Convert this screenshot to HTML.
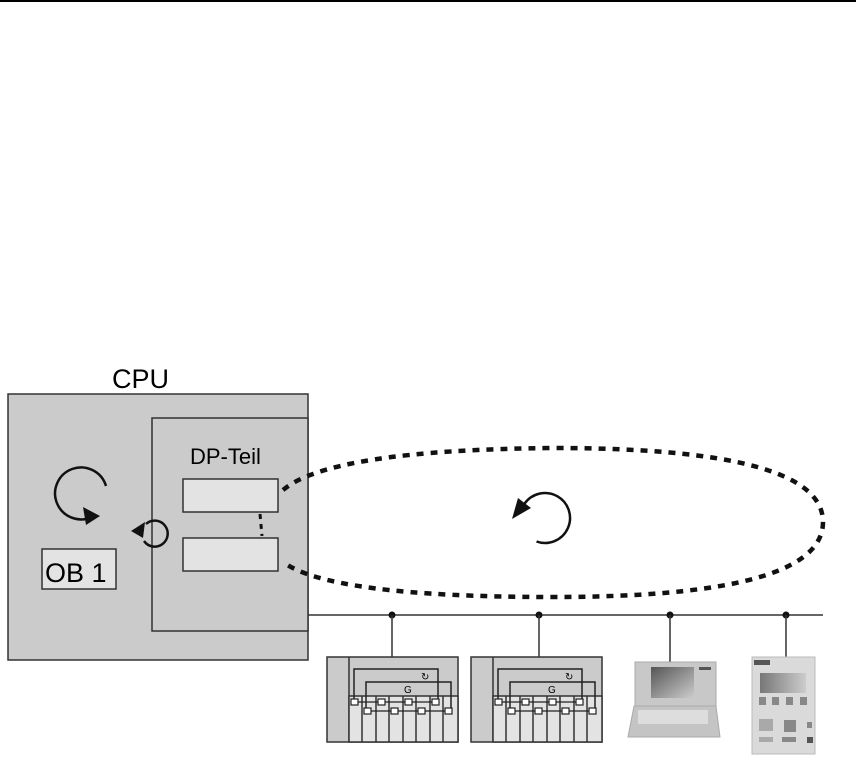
<!DOCTYPE html>
<html><head><meta charset="utf-8"><style>
html,body{margin:0;padding:0;background:#fff;}
svg{display:block;}
text{font-family:"Liberation Sans",Arial,sans-serif;}
</style></head><body>
<svg width="856" height="774" viewBox="0 0 856 774" xmlns="http://www.w3.org/2000/svg">
<defs>
<linearGradient id="scr" x1="0" y1="0" x2="1" y2="1"><stop offset="0" stop-color="#555"/><stop offset="1" stop-color="#ccc"/></linearGradient>
<linearGradient id="scr2" x1="0" y1="0" x2="1" y2="0"><stop offset="0" stop-color="#777"/><stop offset="1" stop-color="#ccc"/></linearGradient>
</defs>
<line x1="0" y1="1" x2="856" y2="1" stroke="#000" stroke-width="2"/>
<text x="112" y="388" font-size="27">CPU</text>
<rect x="8" y="394" width="300" height="266" fill="#cbcbcb" stroke="#333" stroke-width="1.5"/>
<rect x="152" y="418" width="156" height="213" fill="#cbcbcb" stroke="#333" stroke-width="1.5"/>
<text x="190" y="464" font-size="22">DP-Teil</text>
<rect x="183" y="479" width="95" height="33" fill="#e3e3e3" stroke="#333" stroke-width="1.5"/>
<rect x="183" y="538" width="95" height="33" fill="#e3e3e3" stroke="#333" stroke-width="1.5"/>
<rect x="42" y="549" width="74" height="40" fill="#e3e3e3" stroke="#333" stroke-width="1.5"/>
<text x="45" y="582" font-size="27">OB 1</text>
<!-- big loop arrow -->
<path d="M106 486 A26 26 0 1 0 92 517" fill="none" stroke="#111" stroke-width="2.5"/>
<polygon points="83,507 100,516 86,525" fill="#111"/>
<!-- small loop arrow -->
<path d="M146 524 A13 13 0 1 1 144 541" fill="none" stroke="#111" stroke-width="2.5"/>
<polygon points="131,531 145,522 143,538" fill="#111"/>
<!-- dotted link between dp rects -->
<line x1="260" y1="514" x2="262" y2="536" stroke="#111" stroke-width="3" stroke-dasharray="5,5"/>
<!-- ellipse -->
<path d="M283 490 Q330 450 553 448 Q823 448 823 522 Q823 597 553 597 Q330 597 283 562" fill="none" stroke="#111" stroke-width="4.5" stroke-dasharray="7,7"/>
<!-- center loop arrow -->
<path d="M536.5 541.5 A25 25 0 1 0 524.5 503.7" fill="none" stroke="#111" stroke-width="2.5"/>
<polygon points="512,519 518,498 531,508" fill="#111"/>
<!-- bus -->
<line x1="308" y1="615" x2="823" y2="615" stroke="#333" stroke-width="1.5"/>
<g fill="#111"><circle cx="392" cy="615" r="3.5"/><circle cx="539" cy="615" r="3.5"/><circle cx="670" cy="615" r="3.5"/><circle cx="786" cy="615" r="3.5"/></g>
<g stroke="#333" stroke-width="1.5"><line x1="392" y1="615" x2="392" y2="657"/><line x1="539" y1="615" x2="539" y2="657"/><line x1="670" y1="615" x2="670" y2="662"/><line x1="786" y1="615" x2="786" y2="657"/></g>
<!-- rack 1 -->
<g id="rack">
<rect x="327" y="657" width="131" height="85" fill="#cbcbcb" stroke="#333" stroke-width="1.5"/>
<line x1="349" y1="657" x2="349" y2="742" stroke="#333" stroke-width="1.5"/>
<rect x="349" y="696" width="109" height="46" fill="#e3e3e3" stroke="#333" stroke-width="1.5"/>
<g stroke="#333" stroke-width="1.5"><line x1="362" y1="696" x2="362" y2="742"/><line x1="376" y1="696" x2="376" y2="742"/><line x1="389" y1="696" x2="389" y2="742"/><line x1="403" y1="696" x2="403" y2="742"/><line x1="416" y1="696" x2="416" y2="742"/><line x1="430" y1="696" x2="430" y2="742"/><line x1="443" y1="696" x2="443" y2="742"/></g>
<path d="M354 702 V669 H438 V702" fill="none" stroke="#222" stroke-width="1.5"/>
<path d="M366 711 V682 H451 V711" fill="none" stroke="#222" stroke-width="1.5"/>
<line x1="354" y1="702" x2="438" y2="702" stroke="#222" stroke-width="1.2"/>
<line x1="366" y1="711" x2="451" y2="711" stroke="#222" stroke-width="1.2"/>
<g fill="#fff" stroke="#222" stroke-width="1.2"><rect x="351" y="699" width="7" height="6"/><rect x="378" y="699" width="7" height="6"/><rect x="405" y="699" width="7" height="6"/><rect x="432" y="699" width="7" height="6"/><rect x="364" y="708" width="7" height="6"/><rect x="391" y="708" width="7" height="6"/><rect x="418" y="708" width="7" height="6"/><rect x="445" y="708" width="7" height="6"/></g>
<text x="421" y="680" font-size="10">↻</text>
<text x="404" y="693" font-size="10">G</text>
</g>
<use href="#rack" x="144" y="0"/>
<!-- laptop -->
<rect x="635" y="662" width="81" height="44" fill="#c8c8c8" stroke="#aaa"/>
<rect x="651" y="667" width="43" height="31" fill="url(#scr)"/>
<rect x="699" y="667" width="12" height="3" fill="#555"/>
<polygon points="634,706 716,706 720,737 628,737" fill="#c4c4c4" stroke="#aaa"/>
<rect x="638" y="710" width="70" height="14" fill="#ddd"/>
<!-- panel -->
<rect x="752" y="657" width="63" height="97" fill="#dadada" stroke="#bbb"/>
<rect x="754" y="660" width="16" height="5" fill="#555"/>
<rect x="760" y="673" width="46" height="20" fill="url(#scr2)"/>
<g fill="#888"><rect x="759" y="697" width="7" height="8"/><rect x="772" y="697" width="7" height="8"/><rect x="786" y="697" width="7" height="8"/><rect x="800" y="697" width="7" height="8"/>
<rect x="759" y="719" width="14" height="12" opacity=".6"/><rect x="784" y="720" width="12" height="12"/><rect x="807" y="722" width="5" height="6"/><rect x="759" y="737" width="14" height="5" opacity=".6"/><rect x="782" y="737" width="14" height="5"/><rect x="807" y="737" width="6" height="6" fill="#555"/></g>
</svg>
</body></html>
